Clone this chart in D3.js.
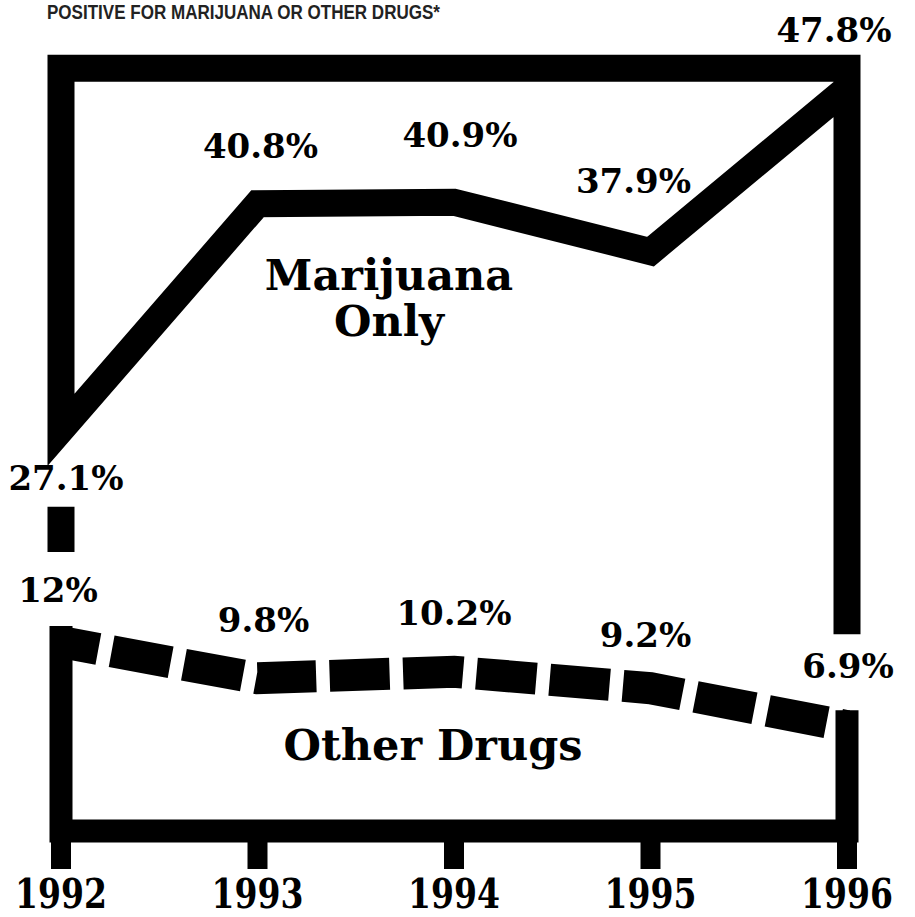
<!DOCTYPE html>
<html>
<head>
  <meta charset="utf-8">
  <title>Positive for marijuana or other drugs</title>
  <script src="https://d3js.org/d3.v7.min.js"></script>
  <style>
    body { margin: 0; background: #fff; }
  </style>
</head>
<body>
  <script>
    // data
    var years = ["1992", "1993", "1994", "1995", "1996"];
    var marijuana = [27.1, 40.8, 40.9, 37.9, 47.8];
    var otherDrugs = [12, 9.8, 10.2, 9.2, 6.9];
    var marijuanaLabels = ["27.1%", "40.8%", "40.9%", "37.9%", "47.8%"];
    var otherLabels = ["12%", "9.8%", "10.2%", "9.2%", "6.9%"];
    var title = "POSITIVE FOR MARIJUANA OR OTHER DRUGS*";

    // label nudges (dx, dy from the point)
    var mShift = [[5, 60], [3, -46], [6, -55], [-17, -59], [-13, -46]];
    var oShift = [[-3, -40], [6, -46], [0, -47], [-5, -41], [1, -48]];

    var width = 915;
    var height = 917;
    var serif = "'DejaVu Serif', Georgia, serif";

    var x = d3.scalePoint().domain(years).range([61, 847]);
    var yM = d3.scaleLinear().domain([0, 50]).range([877, 52]);
    var yO = d3.scaleLinear().domain([0, 50]).range([840, 15]);

    var svg = d3.select("body")
      .append("svg")
      .attr("width", width)
      .attr("height", height);

    var line = d3.line();

    var frameTop = yM(d3.max(marijuana)) - 20;
    var axisY = yO(0) - 9;
    var oW = 32;

    var mBase = marijuana.map(function(d, i) { return yM(d) + mShift[i][1]; });
    var oBase = otherDrugs.map(function(d, i) { return yO(d) + oShift[i][1]; });
    var x0 = x(years[0]), x1 = x(years[years.length - 1]);

    // title (squeezed to look condensed)
    svg.append("text")
      .attr("x", 47)
      .attr("y", 19)
      .attr("textLength", 393)
      .attr("lengthAdjust", "spacingAndGlyphs")
      .style("font-family", "'Liberation Sans', Arial, sans-serif")
      .style("font-weight", "bold")
      .style("font-size", "20px")
      .style("fill", "#222")
      .text(title);

    // marijuana line together with the upper frame
    var mPts = [[x1, oBase[4] - 44], [x1, frameTop], [x0, frameTop]]
      .concat(years.map(function(d, i) { return [x(d), yM(marijuana[i])]; }));

    svg.append("path")
      .attr("d", line(mPts))
      .style("fill", "none")
      .style("stroke", "#000")
      .style("stroke-width", 27)
      .style("stroke-linejoin", "miter")
      .style("stroke-miterlimit", 6);

    // bit of left bar between the two first labels
    svg.append("path")
      .attr("d", line([[x0, mBase[0] + 17], [x0, oBase[0] - 50]]))
      .style("stroke", "#000")
      .style("stroke-width", 27);

    // lower frame
    svg.append("path")
      .attr("d", line([[x0, yO(otherDrugs[0]) - oW / 2], [x0, axisY], [x1, axisY], [x1, yO(otherDrugs[4]) - oW / 2]]))
      .style("fill", "none")
      .style("stroke", "#000")
      .style("stroke-width", 23)
      .style("stroke-linejoin", "miter");

    // ticks
    svg.selectAll(".tick")
      .data(years)
      .enter().append("line")
        .attr("class", "tick")
        .attr("x1", function(d) { return x(d); })
        .attr("x2", function(d) { return x(d); })
        .attr("y1", axisY)
        .attr("y2", axisY + 38)
        .style("stroke", "#000")
        .style("stroke-width", 20);

    // other drugs dashed line
    svg.append("path")
      .attr("d", line(years.map(function(d, i) { return [x(d), yO(otherDrugs[i])]; })))
      .style("fill", "none")
      .style("stroke", "#000")
      .style("stroke-width", oW)
      .style("stroke-linejoin", "miter")
      .style("stroke-dasharray", "60 13.5")
      .style("stroke-dashoffset", 22);

    // value labels
    function labels(vals, texts, shift, yScale) {
      svg.append("g").selectAll("text")
        .data(vals)
        .enter().append("text")
          .attr("x", function(d, i) { return x(years[i]) + shift[i][0]; })
          .attr("y", function(d, i) { return yScale(d) + shift[i][1]; })
          .attr("text-anchor", "middle")
          .style("font-family", serif)
          .style("font-weight", "bold")
          .style("font-size", "34px")
          .text(function(d, i) { return texts[i]; });
    }
    labels(marijuana, marijuanaLabels, mShift, yM);
    labels(otherDrugs, otherLabels, oShift, yO);

    // series names
    var names = svg.append("g")
      .style("font-family", serif)
      .style("font-weight", "bold")
      .style("font-size", "43px")
      .attr("text-anchor", "middle");
    names.append("text").attr("x", 389).attr("y", 290).text("Marijuana");
    names.append("text").attr("x", 389).attr("y", 336).text("Only");
    names.append("text").attr("x", 433).attr("y", 760).text("Other Drugs");

    // year labels
    svg.append("g").selectAll("text")
      .data(years)
      .enter().append("text")
        .attr("x", function(d) { return x(d) - 46; })
        .attr("y", 908)
        .attr("textLength", 92)
        .attr("lengthAdjust", "spacingAndGlyphs")
        .style("font-family", serif)
        .style("font-weight", "bold")
        .style("font-size", "41px")
        .text(function(d) { return d; });
  </script>
</body>
</html>
